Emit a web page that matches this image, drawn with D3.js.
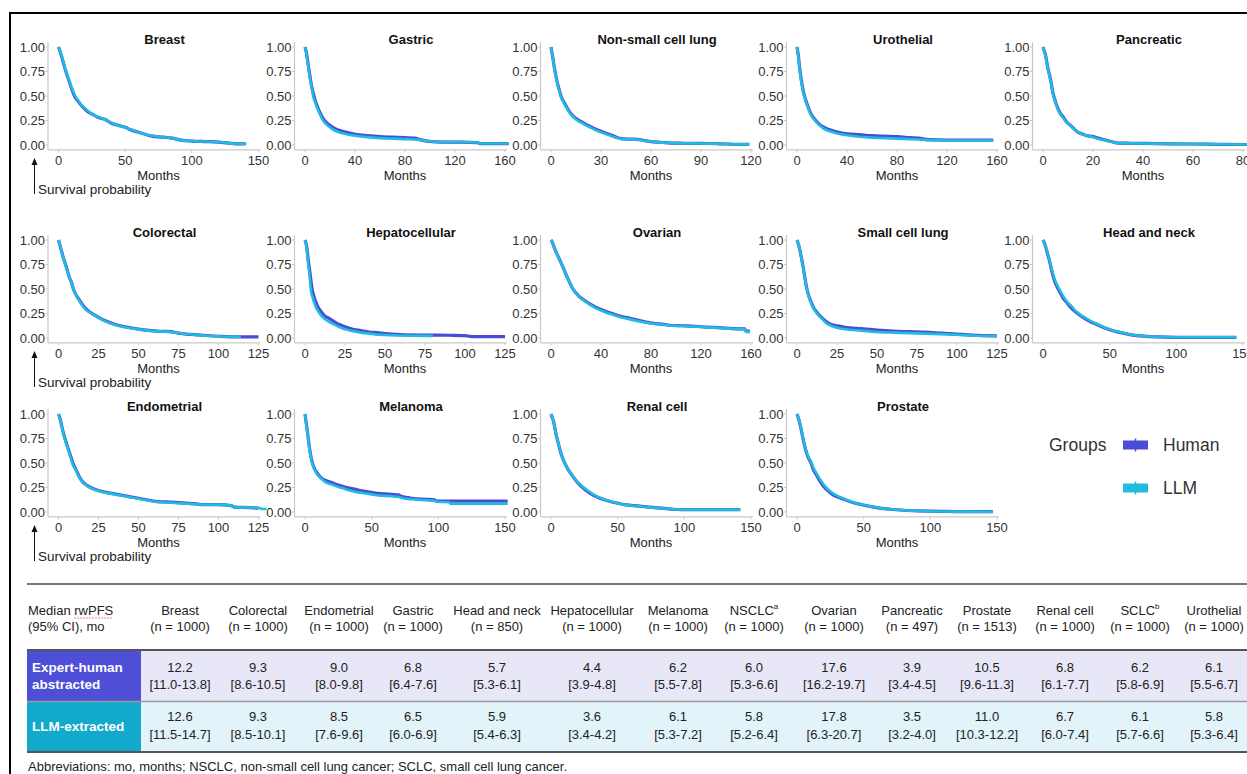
<!DOCTYPE html>
<html>
<head>
<meta charset="utf-8">
<script src="https://cdn.jsdelivr.net/npm/d3@7"></script>
<style>
body { margin: 0; background: #fff; }
svg { font-family: "Liberation Sans", Arial, Helvetica, sans-serif; }
</style>
</head>
<body>
<script>
// Curvas de supervivencia: [meses, probabilidad]
var breastHuman = [[0,1],[2,0.92],[4,0.82],[6,0.73],[8,0.65],[10,0.57],[12,0.5],[15,0.44],[18,0.39],[22,0.34],[26,0.31],[30,0.28],[35,0.26],[40,0.22],[45,0.2],[50,0.18],[55,0.15],[60,0.13],[65,0.11],[70,0.09],[78,0.08],[85,0.07],[92,0.05],[100,0.04],[110,0.035],[120,0.03],[128,0.02],[133,0.012],[140,0.012]];
var breastLlm = [[0,1],[2,0.93],[4,0.83],[6,0.74],[8,0.66],[10,0.58],[12.6,0.5],[15,0.45],[18,0.4],[22,0.35],[26,0.31],[30,0.285],[35,0.26],[40,0.225],[45,0.2],[50,0.18],[55,0.155],[60,0.13],[65,0.11],[70,0.095],[78,0.08],[85,0.07],[92,0.05],[100,0.04],[110,0.035],[120,0.03],[128,0.02],[133,0.012],[141,0.012]];
var gastricHuman = [[0,1],[1,0.95],[2,0.87],[3,0.78],[4,0.7],[5,0.62],[6,0.56],[7,0.51],[8,0.46],[10,0.39],[12,0.33],[15,0.26],[18,0.22],[21,0.19],[25,0.16],[30,0.14],[35,0.125],[40,0.11],[50,0.095],[60,0.085],[70,0.08],[80,0.075],[88,0.07],[92,0.055],[98,0.04],[110,0.03],[125,0.03],[138,0.025],[140,0.015],[163,0.015]];
var gastricLlm = [[0,1],[1,0.94],[2,0.86],[3,0.77],[4,0.68],[5,0.61],[6,0.54],[6.5,0.5],[8,0.44],[10,0.37],[12,0.31],[15,0.24],[18,0.2],[21,0.17],[25,0.14],[30,0.12],[35,0.105],[40,0.095],[50,0.08],[60,0.07],[70,0.065],[80,0.06],[90,0.055],[98,0.04],[110,0.03],[125,0.03],[138,0.025],[140,0.015],[163,0.015]];
var nsclcHuman = [[0,1],[1,0.9],[2,0.79],[3,0.7],[4,0.62],[5,0.56],[6,0.5],[8,0.43],[10,0.37],[12,0.32],[15,0.27],[18,0.24],[21,0.21],[24,0.185],[27,0.16],[30,0.14],[34,0.115],[38,0.09],[42,0.065],[46,0.06],[52,0.058],[56,0.045],[60,0.035],[66,0.028],[72,0.02],[80,0.018],[90,0.016],[100,0.013],[106,0.01],[110,0.006],[119,0.006]];
var nsclcLlm = [[0,1],[1,0.9],[2,0.78],[3,0.69],[4,0.61],[5,0.55],[5.8,0.5],[8,0.42],[10,0.36],[12,0.31],[15,0.26],[18,0.23],[21,0.2],[24,0.175],[27,0.15],[30,0.13],[34,0.105],[38,0.08],[42,0.062],[46,0.058],[52,0.056],[56,0.045],[60,0.035],[66,0.027],[72,0.02],[80,0.018],[90,0.015],[100,0.012],[106,0.01],[110,0.006],[119,0.006]];
var urothelialHuman = [[0,1],[1,0.92],[2,0.8],[3,0.7],[4,0.62],[5,0.55],[6,0.5],[8,0.42],[10,0.35],[12,0.3],[15,0.25],[18,0.21],[21,0.185],[25,0.16],[30,0.14],[35,0.125],[40,0.115],[50,0.105],[60,0.095],[70,0.09],[80,0.085],[90,0.075],[100,0.065],[105,0.055],[120,0.05],[140,0.05],[157,0.05]];
var urothelialLlm = [[0,1],[1,0.91],[2,0.79],[3,0.68],[4,0.6],[5,0.53],[5.8,0.5],[8,0.41],[10,0.34],[12,0.29],[15,0.24],[18,0.2],[21,0.17],[25,0.145],[30,0.125],[35,0.11],[40,0.1],[50,0.085],[60,0.075],[70,0.07],[80,0.065],[90,0.06],[100,0.055],[105,0.05],[120,0.045],[140,0.045],[157,0.045]];
var pancreaticHuman = [[0,1],[0.5,0.96],[1,0.92],[1.5,0.85],[2,0.78],[3,0.67],[4,0.53],[5,0.44],[6,0.37],[7,0.32],[8,0.29],[9,0.25],[10,0.22],[11,0.2],[12,0.175],[13,0.15],[14,0.13],[15,0.12],[17,0.1],[20,0.085],[22,0.07],[25,0.05],[28,0.03],[30,0.02],[35,0.018],[40,0.017],[50,0.012],[60,0.01],[70,0.007],[82,0.005]];
var pancreaticLlm = [[0,1],[0.5,0.95],[1,0.91],[1.5,0.84],[2,0.77],[3,0.66],[4,0.52],[5,0.43],[6,0.36],[7,0.31],[8,0.28],[9,0.245],[10,0.215],[11,0.195],[12,0.17],[13,0.15],[14,0.13],[15,0.115],[17,0.1],[20,0.08],[22,0.065],[25,0.045],[28,0.028],[30,0.02],[35,0.018],[40,0.016],[50,0.012],[60,0.01],[70,0.007],[82,0.005]];

var colorectalHuman = [[0,1],[1,0.94],[2,0.88],[3,0.82],[4,0.77],[5,0.72],[6,0.66],[7,0.61],[8,0.57],[9.3,0.5],[11,0.44],[13,0.39],[15,0.34],[17,0.3],[20,0.26],[23,0.23],[25,0.21],[30,0.17],[35,0.14],[40,0.12],[45,0.105],[50,0.09],[55,0.08],[60,0.072],[65,0.068],[70,0.065],[75,0.05],[80,0.04],[85,0.035],[90,0.028],[100,0.018],[110,0.012],[125,0.012]];
var colorectalLlm = [[0,1],[1,0.94],[2,0.88],[3,0.82],[4,0.76],[5,0.71],[6,0.66],[7,0.61],[8,0.56],[9.3,0.5],[11,0.44],[13,0.38],[15,0.33],[17,0.29],[20,0.255],[23,0.225],[25,0.205],[30,0.165],[35,0.135],[40,0.115],[45,0.1],[50,0.088],[55,0.078],[60,0.07],[65,0.066],[70,0.062],[75,0.05],[80,0.04],[85,0.033],[90,0.026],[100,0.017],[108,0.012],[114,0.012]];
var hepatoHuman = [[0,1],[1,0.94],[2,0.8],[3,0.68],[4,0.55],[4.4,0.5],[5,0.46],[6,0.4],[7,0.36],[8,0.32],[10,0.27],[12,0.23],[15,0.2],[18,0.17],[21,0.14],[25,0.115],[30,0.09],[35,0.075],[40,0.06],[45,0.055],[50,0.045],[60,0.035],[75,0.03],[90,0.028],[100,0.025],[104,0.015],[125,0.015]];
var hepatoLlm = [[0,1],[1,0.92],[2,0.75],[3,0.61],[3.6,0.5],[4,0.46],[5,0.4],[6,0.35],[7,0.31],[8,0.28],[10,0.23],[12,0.2],[15,0.165],[18,0.14],[21,0.115],[25,0.09],[30,0.07],[35,0.055],[40,0.045],[50,0.03],[60,0.025],[75,0.022],[80,0.02]];
var ovarianHuman = [[0,1],[1,0.98],[2.7,0.92],[5,0.85],[8,0.77],[11,0.68],[14,0.59],[17.6,0.5],[20,0.46],[22,0.43],[26,0.39],[30,0.355],[35,0.32],[40,0.29],[45,0.265],[50,0.245],[55,0.225],[60,0.21],[65,0.195],[70,0.18],[75,0.165],[82,0.15],[90,0.14],[95,0.13],[105,0.125],[115,0.12],[125,0.11],[135,0.105],[145,0.095],[155,0.093],[156,0.07],[159,0.07]];
var ovarianLlm = [[0,1],[1,0.98],[2.7,0.92],[5,0.85],[8,0.77],[11,0.68],[14,0.59],[17.8,0.5],[20,0.46],[22,0.43],[26,0.385],[30,0.35],[35,0.31],[40,0.28],[45,0.255],[50,0.235],[55,0.215],[60,0.2],[65,0.185],[70,0.17],[75,0.16],[82,0.145],[90,0.135],[95,0.128],[105,0.122],[115,0.117],[125,0.108],[135,0.103],[145,0.093],[155,0.09],[156,0.065],[159,0.06]];
var sclcHuman = [[0,1],[1,0.95],[2,0.88],[3,0.8],[4,0.71],[5,0.61],[6.2,0.5],[7,0.45],[8,0.4],[9,0.36],[10,0.32],[12,0.27],[14,0.23],[16,0.2],[18,0.17],[20,0.15],[22,0.135],[25,0.125],[30,0.11],[40,0.095],[50,0.08],[60,0.07],[70,0.065],[80,0.06],[90,0.05],[100,0.04],[110,0.03],[125,0.022]];
var sclcLlm = [[0,1],[1,0.95],[2,0.88],[3,0.79],[4,0.7],[5,0.6],[6.1,0.5],[7,0.44],[8,0.39],[9,0.35],[10,0.31],[12,0.26],[14,0.22],[16,0.19],[18,0.155],[20,0.135],[22,0.12],[25,0.105],[30,0.09],[40,0.075],[50,0.062],[60,0.055],[70,0.05],[80,0.045],[90,0.04],[100,0.033],[110,0.025],[125,0.02]];
var headneckHuman = [[0,1],[1,0.97],[2,0.93],[3,0.88],[5,0.78],[7,0.66],[9,0.57],[11,0.51],[13,0.46],[15,0.41],[18,0.36],[21,0.31],[25,0.26],[30,0.21],[35,0.17],[40,0.14],[45,0.11],[50,0.085],[55,0.065],[60,0.05],[65,0.035],[70,0.025],[75,0.02],[85,0.012],[100,0.007],[145,0.007]];
var headneckLlm = [[0,1],[1,0.97],[2,0.94],[3,0.89],[5,0.79],[7,0.68],[9,0.59],[11,0.53],[13,0.48],[15,0.43],[18,0.37],[21,0.33],[25,0.27],[30,0.22],[35,0.18],[40,0.145],[45,0.115],[50,0.088],[55,0.066],[60,0.05],[65,0.036],[70,0.026],[75,0.02],[85,0.012],[100,0.007],[145,0.007]];

var endometrialHuman = [[0,1],[1,0.95],[2,0.88],[3,0.81],[5,0.7],[7,0.6],[9,0.5],[11,0.43],[13,0.36],[15,0.31],[17,0.28],[20,0.25],[25,0.22],[30,0.2],[35,0.185],[40,0.17],[45,0.155],[50,0.14],[55,0.125],[60,0.11],[70,0.1],[80,0.09],[85,0.085],[90,0.075],[100,0.075],[108,0.065],[110,0.05],[120,0.045],[125,0.04]];
var endometrialLlm = [[0,1],[1,0.95],[2,0.88],[3,0.8],[5,0.69],[7,0.59],[8.5,0.5],[11,0.42],[13,0.35],[15,0.305],[17,0.275],[20,0.245],[25,0.215],[30,0.195],[35,0.18],[40,0.165],[45,0.15],[50,0.135],[55,0.12],[60,0.105],[70,0.095],[80,0.085],[85,0.08],[90,0.075],[100,0.075],[108,0.065],[110,0.05],[120,0.045],[126,0.04],[127,0.03],[130,0.03]];
var melanomaHuman = [[0,1],[0.5,0.95],[1,0.9],[2,0.8],[3,0.69],[4,0.6],[5,0.53],[6,0.48],[8,0.42],[10,0.38],[13,0.34],[16,0.32],[20,0.3],[25,0.275],[30,0.255],[35,0.24],[40,0.225],[45,0.21],[50,0.2],[55,0.19],[60,0.185],[65,0.18],[70,0.175],[72,0.16],[76,0.15],[80,0.14],[90,0.13],[97,0.125],[99,0.11],[152,0.11]];
var melanomaLlm = [[0,1],[0.5,0.95],[1,0.89],[2,0.79],[3,0.68],[4,0.59],[5,0.52],[6,0.47],[8,0.41],[10,0.37],[13,0.33],[16,0.3],[20,0.28],[25,0.255],[30,0.235],[35,0.215],[40,0.2],[45,0.19],[50,0.18],[55,0.17],[60,0.165],[65,0.16],[70,0.155],[72,0.145],[76,0.135],[80,0.13],[90,0.12],[97,0.115],[99,0.105],[108,0.1],[109,0.085],[152,0.085]];
var renalHuman = [[0,1],[1,0.96],[2,0.92],[3,0.85],[4,0.78],[5.5,0.7],[7,0.62],[9,0.54],[11,0.48],[13,0.43],[16,0.37],[20,0.3],[25,0.235],[30,0.185],[35,0.15],[40,0.125],[45,0.105],[50,0.09],[55,0.075],[60,0.068],[65,0.062],[70,0.055],[80,0.042],[90,0.03],[97,0.024],[142,0.024]];
var renalLlm = [[0,1],[1,0.96],[2,0.92],[3,0.85],[4,0.78],[5.5,0.7],[7,0.62],[9,0.54],[11,0.48],[13,0.43],[16,0.37],[20,0.305],[25,0.245],[30,0.195],[35,0.155],[40,0.127],[45,0.106],[50,0.09],[55,0.075],[60,0.066],[65,0.06],[70,0.053],[80,0.04],[90,0.03],[97,0.024],[142,0.024]];
var prostateHuman = [[0,1],[1,0.96],[2,0.91],[3,0.85],[4.5,0.75],[6,0.66],[8,0.57],[10.5,0.5],[12,0.44],[14,0.39],[17,0.32],[20,0.26],[23,0.22],[27,0.175],[31,0.15],[35,0.13],[40,0.105],[45,0.085],[50,0.07],[55,0.057],[62,0.04],[70,0.028],[80,0.018],[90,0.012],[100,0.008],[120,0.004],[147,0.003]];
var prostateLlm = [[0,1],[1,0.96],[2,0.92],[3,0.86],[4.5,0.76],[6,0.67],[8,0.58],[11,0.5],[12,0.46],[14,0.41],[17,0.34],[20,0.28],[23,0.235],[27,0.19],[31,0.16],[35,0.137],[40,0.11],[45,0.088],[50,0.072],[55,0.058],[62,0.041],[70,0.028],[80,0.018],[90,0.012],[100,0.008],[120,0.004],[147,0.003]];

// Títulos y marcas del eje X de cada panel
var panelNames = ["Breast","Gastric","Non-small cell lung","Urothelial","Pancreatic",
                  "Colorectal","Hepatocellular","Ovarian","Small cell lung","Head and neck",
                  "Endometrial","Melanoma","Renal cell","Prostate"];
var panelTicks = [[0,50,100,150],[0,40,80,120,160],[0,30,60,90,120],[0,40,80,120,160],[0,20,40,60,80],
                  [0,25,50,75,100,125],[0,25,50,75,100,125],[0,40,80,120,160],[0,25,50,75,100,125],[0,50,100,150],
                  [0,25,50,75,100,125],[0,50,100,150],[0,50,100,150],[0,50,100,150]];
var panelHuman = [breastHuman,gastricHuman,nsclcHuman,urothelialHuman,pancreaticHuman,
                  colorectalHuman,hepatoHuman,ovarianHuman,sclcHuman,headneckHuman,
                  endometrialHuman,melanomaHuman,renalHuman,prostateHuman];
var panelLlm = [breastLlm,gastricLlm,nsclcLlm,urothelialLlm,pancreaticLlm,
                colorectalLlm,hepatoLlm,ovarianLlm,sclcLlm,headneckLlm,
                endometrialLlm,melanomaLlm,renalLlm,prostateLlm];
var yTicks = [0, 0.25, 0.5, 0.75, 1];
var groups = ["Human", "LLM"];

// Datos de la tabla
var tableCols = ["Breast","Colorectal","Endometrial","Gastric","Head and neck","Hepatocellular","Melanoma","NSCLC","Ovarian","Pancreatic","Prostate","Renal cell","SCLC","Urothelial"];
var tableSup = ["","","","","","","","a","","","","","b",""];
var tableN = ["1000","1000","1000","1000","850","1000","1000","1000","1000","497","1513","1000","1000","1000"];
var humanMedian = ["12.2","9.3","9.0","6.8","5.7","4.4","6.2","6.0","17.6","3.9","10.5","6.8","6.2","6.1"];
var humanCI = ["11.0-13.8","8.6-10.5","8.0-9.8","6.4-7.6","5.3-6.1","3.9-4.8","5.5-7.8","5.3-6.6","16.2-19.7","3.4-4.5","9.6-11.3","6.1-7.7","5.8-6.9","5.5-6.7"];
var llmMedian = ["12.6","9.3","8.5","6.5","5.9","3.6","6.1","5.8","17.8","3.5","11.0","6.7","6.1","5.8"];
var llmCI = ["11.5-14.7","8.5-10.1","7.6-9.6","6.0-6.9","5.4-6.3","3.4-4.2","5.3-7.2","5.2-6.4","6.3-20.7","3.2-4.0","10.3-12.2","6.0-7.4","5.7-6.6","5.3-6.4"];

// Parámetros generales
var width = 1247, height = 774,
    humanColor = "#4B4BD6",
    llmColor = "#1FBCE0",
    axisColor = "#c9c9c9",
    textColor = "#333",
    colX = [58.5, 305, 551, 797, 1043],
    rowY = [47, 240, 414],
    plotW = 200, plotH = 98,
    tableX = [180, 258, 339, 413, 497, 592, 678, 754, 834, 912, 987, 1065, 1140, 1214];

var svg = d3.select("body")
  .append("svg")
  .attr("width", width)
  .attr("height", height);

// Marco negro
svg.append("rect")
  .attr("x", 10).attr("y", 13)
  .attr("width", 1300).attr("height", 800)
  .attr("fill", "none").attr("stroke", "#000").attr("stroke-width", 2);

var line = d3.line()
  .curve(d3.curveMonotoneX);

panelNames.forEach(function(name, i) {
  var col = i % 5, row = Math.floor(i / 5);
  var ticks = panelTicks[i];
  var x = d3.scaleLinear().domain([0, ticks[ticks.length - 1]]).range([colX[col], colX[col] + plotW]);
  var y = d3.scaleLinear().domain([0, 1]).range([rowY[row] + plotH, rowY[row]]);
  var g = svg.append("g");
  var axisY = y(-0.05), axisX = x.range()[0] - 10.5;

  // Ejes
  g.append("line").attr("x1", axisX).attr("x2", axisX).attr("y1", y(1.05)).attr("y2", axisY)
    .attr("stroke", axisColor).attr("stroke-width", 1.2);
  g.append("line").attr("x1", axisX).attr("x2", x.range()[1] + 2).attr("y1", axisY).attr("y2", axisY)
    .attr("stroke", axisColor).attr("stroke-width", 1.2);

  g.selectAll(".yt").data(yTicks).enter().append("line")
    .attr("x1", axisX - 2.5).attr("x2", axisX)
    .attr("y1", function(d) { return y(d); }).attr("y2", function(d) { return y(d); })
    .attr("stroke", axisColor);
  g.selectAll(".yl").data(yTicks).enter().append("text")
    .attr("x", axisX - 3).attr("y", function(d) { return y(d); })
    .attr("text-anchor", "end").attr("dominant-baseline", "central")
    .style("font-size", "13px").style("fill", textColor)
    .text(function(d) { return d3.format(".2f")(d); });

  g.selectAll(".xt").data(ticks).enter().append("line")
    .attr("x1", function(d) { return x(d); }).attr("x2", function(d) { return x(d); })
    .attr("y1", axisY).attr("y2", axisY + 2.5)
    .attr("stroke", axisColor);
  g.selectAll(".xl").data(ticks).enter().append("text")
    .attr("x", function(d) { return x(d); }).attr("y", y(0) + 15)
    .attr("text-anchor", "middle").attr("dominant-baseline", "central")
    .style("font-size", "13px").style("fill", textColor)
    .text(function(d) { return d; });

  g.append("text")
    .attr("x", colX[col] + plotW / 2).attr("y", y(0) + 30)
    .attr("text-anchor", "middle").attr("dominant-baseline", "central")
    .style("font-size", "13px").style("fill", "#222")
    .text("Months");

  g.append("text")
    .attr("x", colX[col] + 106).attr("y", y(1) - 8)
    .attr("text-anchor", "middle").attr("dominant-baseline", "central")
    .style("font-size", "13px").style("font-weight", "bold").style("fill", "#111")
    .text(name);

  // Curvas
  line.x(function(d) { return x(d[0]); }).y(function(d) { return y(d[1]); });
  g.append("path").datum(panelHuman[i])
    .attr("fill", "none").attr("stroke", humanColor).attr("stroke-width", 3.2)
    .attr("stroke-linejoin", "round").attr("d", line);
  g.append("path").datum(panelLlm[i])
    .attr("fill", "none").attr("stroke", llmColor).attr("stroke-width", 2.6)
    .attr("stroke-linejoin", "round").attr("d", line);

  // Flecha "Survival probability" en la primera columna
  if (col === 0) {
    var ax = 34.5, top = y(0) + 13, bottom = y(0) + 49;
    g.append("line").attr("x1", ax).attr("x2", ax).attr("y1", top + 5).attr("y2", bottom)
      .attr("stroke", "#111").attr("stroke-width", 1);
    g.append("path")
      .attr("d", "M" + ax + "," + top + "L" + (ax - 3) + "," + (top + 7) + "L" + (ax + 3) + "," + (top + 7) + "Z")
      .attr("fill", "#111");
    g.append("text").attr("x", 38).attr("y", y(0) + 44)
      .attr("dominant-baseline", "central")
      .style("font-size", "13.5px").style("fill", "#222")
      .text("Survival probability");
  }
});

// Leyenda
var legend = svg.append("g");
legend.append("text").attr("x", 1049).attr("y", 445)
  .attr("dominant-baseline", "central")
  .style("font-size", "17.5px").style("fill", textColor).text("Groups");
[humanColor, llmColor].forEach(function(c, i) {
  var ly = 445 + i * 43;
  legend.append("rect").attr("x", 1123).attr("y", ly - 4.5).attr("width", 25).attr("height", 9).attr("fill", c);
  legend.append("line").attr("x1", 1135.5).attr("x2", 1135.5).attr("y1", ly - 6.5).attr("y2", ly + 6.5)
    .attr("stroke", c).attr("stroke-width", 1.5);
  legend.append("text").attr("x", 1163).attr("y", ly)
    .attr("dominant-baseline", "central")
    .style("font-size", "17.5px").style("fill", textColor).text(groups[i]);
});

// Tabla de medianas
var table = svg.append("g");
table.append("rect").attr("x", 141).attr("y", 651).attr("width", 1200).attr("height", 50).attr("fill", "#E7E7F7");
table.append("rect").attr("x", 141).attr("y", 702).attr("width", 1200).attr("height", 49).attr("fill", "#E2F3FA");
table.append("rect").attr("x", 27).attr("y", 651).attr("width", 114).attr("height", 50).attr("fill", "#4E4ED6");
table.append("rect").attr("x", 27).attr("y", 702).attr("width", 114).attr("height", 49).attr("fill", "#12A9CB");

[[584, "#777", 2], [650, "#555", 2], [701.5, "#9a9a9a", 1.5], [752, "#555", 2]].forEach(function(l) {
  table.append("line").attr("x1", 27).attr("x2", 1260).attr("y1", l[0]).attr("y2", l[0])
    .attr("stroke", l[1]).attr("stroke-width", l[2]);
});

var head = table.append("text").attr("x", 28).attr("y", 610)
  .attr("dominant-baseline", "central")
  .style("font-size", "13px").style("fill", "#222").text("Median rwPFS");
var hn = head.node();
var ux0 = 28 + hn.getSubStringLength(0, 7), ux1 = 28 + hn.getComputedTextLength();
table.append("line").attr("x1", ux0).attr("x2", ux1).attr("y1", 618).attr("y2", 618)
  .attr("stroke", "#e06060").attr("stroke-width", 1).attr("stroke-dasharray", "1.5,1.5");
table.append("text").attr("x", 28).attr("y", 626)
  .attr("dominant-baseline", "central")
  .style("font-size", "13px").style("fill", "#222").text("(95% CI), mo");

tableCols.forEach(function(c, i) {
  var t = table.append("text").attr("x", tableX[i]).attr("y", 610)
    .attr("text-anchor", "middle").attr("dominant-baseline", "central")
    .style("font-size", "13px").style("fill", "#222");
  t.append("tspan").text(c);
  if (tableSup[i]) t.append("tspan").attr("dy", -4).style("font-size", "8px").text(tableSup[i]);
  table.append("text").attr("x", tableX[i]).attr("y", 626)
    .attr("text-anchor", "middle").attr("dominant-baseline", "central")
    .style("font-size", "13px").style("fill", "#222").text("(n = " + tableN[i] + ")");

  [[humanMedian[i], 667], ["[" + humanCI[i] + "]", 684], [llmMedian[i], 716], ["[" + llmCI[i] + "]", 734]].forEach(function(v) {
    table.append("text").attr("x", tableX[i]).attr("y", v[1])
      .attr("text-anchor", "middle").attr("dominant-baseline", "central")
      .style("font-size", "13px").style("fill", "#222").text(v[0]);
  });
});

[["Expert-human", 667], ["abstracted", 684], ["LLM-extracted", 726]].forEach(function(v) {
  table.append("text").attr("x", 32).attr("y", v[1])
    .attr("dominant-baseline", "central")
    .style("font-size", "13.5px").style("font-weight", "bold").style("fill", "#fff").text(v[0]);
});

table.append("text").attr("x", 28).attr("y", 766)
  .attr("dominant-baseline", "central")
  .style("font-size", "13px").style("fill", "#222")
  .text("Abbreviations: mo, months; NSCLC, non-small cell lung cancer; SCLC, small cell lung cancer.");
</script>
</body>
</html>
